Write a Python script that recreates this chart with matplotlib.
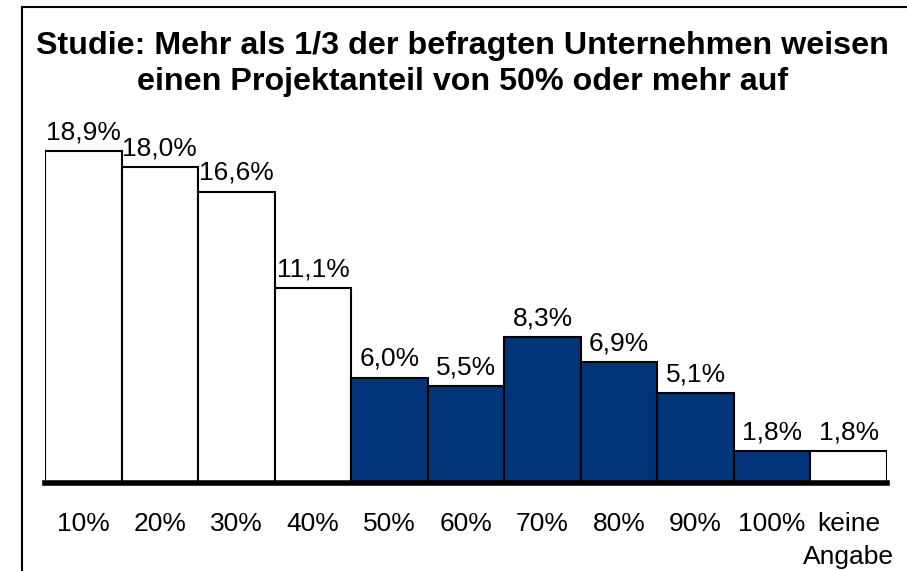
import matplotlib
matplotlib.use("Agg")
import matplotlib.pyplot as plt
from matplotlib.patches import Rectangle

categories = ["10%", "20%", "30%", "40%", "50%", "60%", "70%", "80%", "90%", "100%", "keine\nAngabe"]
values = [18.9, 18.0, 16.6, 11.1, 6.0, 5.5, 8.3, 6.9, 5.1, 1.8, 1.8]
value_labels = ["18,9%", "18,0%", "16,6%", "11,1%", "6,0%", "5,5%", "8,3%", "6,9%", "5,1%", "1,8%", "1,8%"]
highlight = [False, False, False, False, True, True, True, True, True, True, False]
title = "Studie: Mehr als 1/3 der befragten Unternehmen weisen\neinen Projektanteil von 50% oder mehr auf"

plt.rcParams['font.family'] = ['Liberation Sans', 'DejaVu Sans']

W, H = 907, 571
fig = plt.figure(figsize=(W / 100, H / 100), dpi=100)
fig.patch.set_facecolor("white")

base_px = 483
top_px = 120
ax = fig.add_axes([45 / W, (H - base_px) / H, (887 - 45) / W, (base_px - top_px) / H])
ymax = (base_px - top_px) / 17.55
ax.set_xlim(-0.5, len(values) - 0.5)
ax.set_ylim(0, ymax)

x = list(range(len(values)))
colors = ["#02347A" if h else "white" for h in highlight]
ax.bar(x, values, width=1.0, color=colors, edgecolor="black", linewidth=1.5, zorder=2)

for xi, v, lab in zip(x, values, value_labels):
    ax.annotate(lab, (xi, v), xytext=(0, 8.5), textcoords="offset points",
                ha="center", va="baseline", fontsize=19, color="black")

ax.axhline(0, color="black", linewidth=4, zorder=3, clip_on=False)

ax.set_xticks(x)
ax.set_xticklabels(categories, fontsize=19, linespacing=1.45)
ax.tick_params(axis="x", length=0, pad=21)
ax.set_yticks([])
for s in ax.spines.values():
    s.set_visible(False)
ax.patch.set_alpha(0)

fig.text(0.51, 1 - 64 / H, title, ha="center", va="center", fontsize=23.2,
         fontweight="bold", linespacing=1.3)

fig.add_artist(Rectangle((22 / W, -0.1), 1.2, (H - 7) / H + 0.1,
                         transform=fig.transFigure, fill=False,
                         edgecolor="black", linewidth=1.5))

fig.savefig("out.png", dpi=100)
